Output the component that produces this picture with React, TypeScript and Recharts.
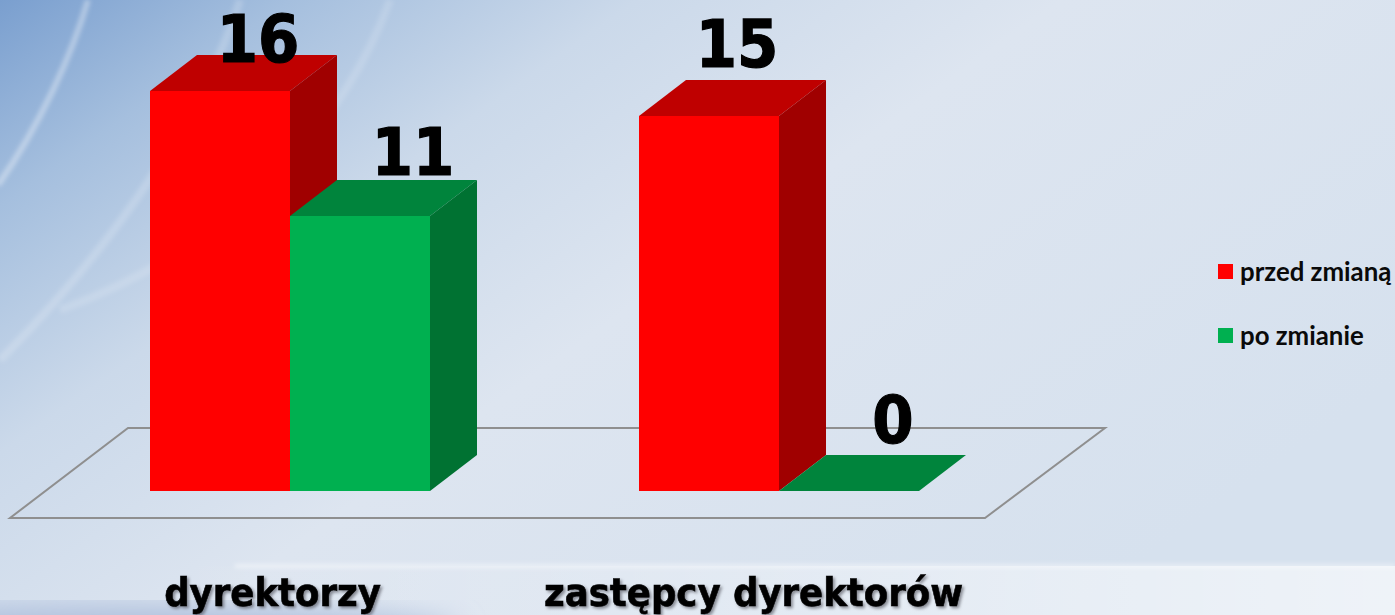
import { Bar, BarChart, LabelList, Legend, XAxis, YAxis, usePlotArea } from "recharts";

const categories = ["dyrektorzy", "zastępcy dyrektorów"];
const beforeValues = [16, 15];
const afterValues = [11, 0];

const rows = categories.map((name, i) => ({
  name,
  before: beforeValues[i],
  after: afterValues[i]
}));

const DEPTH_X = 47;
const DEPTH_Y = 36;

function Box3D({ x, y, width, height, fill, topFill, sideFill }: any) {
  const right = x + width;
  const bottom = y + height;
  return (
    <g>
      <rect x={x} y={y} width={width} height={height} fill={fill} />
      <polygon
        points={`${x},${y} ${right},${y} ${right + DEPTH_X},${y - DEPTH_Y} ${x + DEPTH_X},${y - DEPTH_Y}`}
        fill={topFill}
      />
      <polygon
        points={`${right},${y} ${right + DEPTH_X},${y - DEPTH_Y} ${right + DEPTH_X},${bottom - DEPTH_Y} ${right},${bottom}`}
        fill={sideFill}
      />
    </g>
  );
}

function Floor() {
  const plot = usePlotArea();
  if (!plot) return null;
  const bottom = plot.y + plot.height;
  const end = plot.x + plot.width;
  const points = [
    [plot.x - 35.5, bottom + 27],
    [end - 38.5, bottom + 27],
    [end + 81.5, bottom - 63],
    [plot.x + 82.5, bottom - 63]
  ];
  return (
    <polygon
      points={points.map((p) => p.join(",")).join(" ")}
      fill="none"
      stroke="#8f8f8f"
      strokeWidth={2}
    />
  );
}

function CategoryTick({ x, payload, index }: any) {
  // the labels sit a little left of the band centres in the original
  const shift = [-17.5, -25.5][index];
  return (
    <text
      x={x + shift}
      y={606}
      textAnchor="middle"
      fontFamily="'DejaVu Sans'"
      fontWeight="bold"
      fontSize={39.5}
      stroke="#000"
      strokeWidth={0.6}
      style={{ fontStretch: "condensed", filter: "drop-shadow(2px 2px 1.5px rgba(60,60,70,0.55))" }}
      fill="#000"
    >
      {payload.value}
    </text>
  );
}

const valueLabel = (nudge: number[][]) => (props: any) => {
  const { x, y, width, value, index } = props;
  return (
    <text
      x={x + width / 2 + nudge[index][0]}
      y={y + nudge[index][1]}
      textAnchor="middle"
      fontFamily="'DejaVu Sans'"
      fontWeight="bold"
      fontSize={66}
      stroke="#000"
      strokeWidth={1.2}
      style={{ fontStretch: "condensed" }}
      fill="#000"
    >
      {value}
    </text>
  );
};

function LegendBox({ payload }: any) {
  return (
    <div style={{ fontFamily: "Lato", fontWeight: 700, fontSize: 25.8, color: "#0a0a0a" }}>
      {(payload || []).map((item: any) => (
        <div key={item.value} style={{ display: "flex", alignItems: "center", height: 28, marginBottom: 36, whiteSpace: "nowrap" }}>
          <span style={{ width: 15, height: 15, background: item.color, marginRight: 7 }} />
          {item.value}
        </div>
      ))}
    </div>
  );
}

function Backdrop() {
  return (
    <svg width={1395} height={615} style={{ position: "absolute", left: 0, top: 0 }}>
      <defs>
        <linearGradient id="bgMain" x1="0" y1="0" x2="1" y2="0.62">
          <stop offset="0%" stopColor="#7a9fcf" />
          <stop offset="15%" stopColor="#a5bfde" />
          <stop offset="33%" stopColor="#cbd9ea" />
          <stop offset="55%" stopColor="#dde5f0" />
          <stop offset="100%" stopColor="#d6e1ee" />
        </linearGradient>
        <linearGradient id="bgStrip" x1="0" y1="0" x2="1" y2="0">
          <stop offset="12%" stopColor="#ffffff" stopOpacity={0} />
          <stop offset="45%" stopColor="#ffffff" stopOpacity={0.2} />
          <stop offset="100%" stopColor="#ffffff" stopOpacity={0.6} />
        </linearGradient>
        <filter id="soft">
          <feGaussianBlur stdDeviation="2" />
        </filter>
        <filter id="wide">
          <feGaussianBlur stdDeviation="14" />
        </filter>
      </defs>
      <rect width={1395} height={615} fill="url(#bgMain)" />
      <rect y={566} width={1395} height={49} fill="url(#bgStrip)" />
      <ellipse cx={130} cy={632} rx={330} ry={26} fill="#aebfdc" filter="url(#wide)" />
      <g fill="none" stroke="#ffffff" filter="url(#soft)">
        <path d="M88 0 C72 55 40 125 -2 185" strokeWidth={6} strokeOpacity={0.35} />
        <path d="M240 0 C205 110 120 240 0 360" strokeWidth={8} strokeOpacity={0.18} />
        <path d="M390 0 C350 110 250 240 60 310" strokeWidth={8} strokeOpacity={0.15} />
        <path d="M235 566 L1395 566" strokeWidth={3} strokeOpacity={0.6} />
      </g>
    </svg>
  );
}

export default function App() {
  return (
    <div style={{ position: "fixed", left: 0, top: 0, width: 1395, height: 615, overflow: "hidden" }}>
      <Backdrop />
      <div style={{ position: "absolute", left: 0, top: 0 }}>
        <BarChart
          width={1395}
          height={615}
          data={rows}
          barGap={0}
          barCategoryGap={104.5}
          margin={{ top: 91, right: 194.5, bottom: 0, left: 45.5 }}
        >
          <XAxis
            dataKey="name"
            axisLine={false}
            tickLine={false}
            height={124}
            tick={(props: any) => <CategoryTick {...props} />}
            interval={0}
          />
          <YAxis hide domain={[0, 16]} />
          <Floor />
          <Legend
            layout="vertical"
            align="right"
            verticalAlign="top"
            width={177}
            itemSorter={null}
            wrapperStyle={{ left: 1218, right: "auto", top: 257 }}
            content={<LegendBox />}
          />
          <Bar
            dataKey="before"
            name="przed zmianą"
            fill="#ff0000"
            isAnimationActive={false}
            shape={(p: any) => <Box3D {...p} topFill="#bf0000" sideFill="#a00000" />}
          >
            <LabelList dataKey="before" content={valueLabel([[38, -29], [28, -49]])} />
          </Bar>
          <Bar
            dataKey="after"
            name="po zmianie"
            fill="#00b050"
            isAnimationActive={false}
            shape={(p: any) => <Box3D {...p} topFill="#00843c" sideFill="#007232" />}
          >
            <LabelList dataKey="after" content={valueLabel([[53, -41], [44, -48]])} />
          </Bar>
        </BarChart>
      </div>
    </div>
  );
}
